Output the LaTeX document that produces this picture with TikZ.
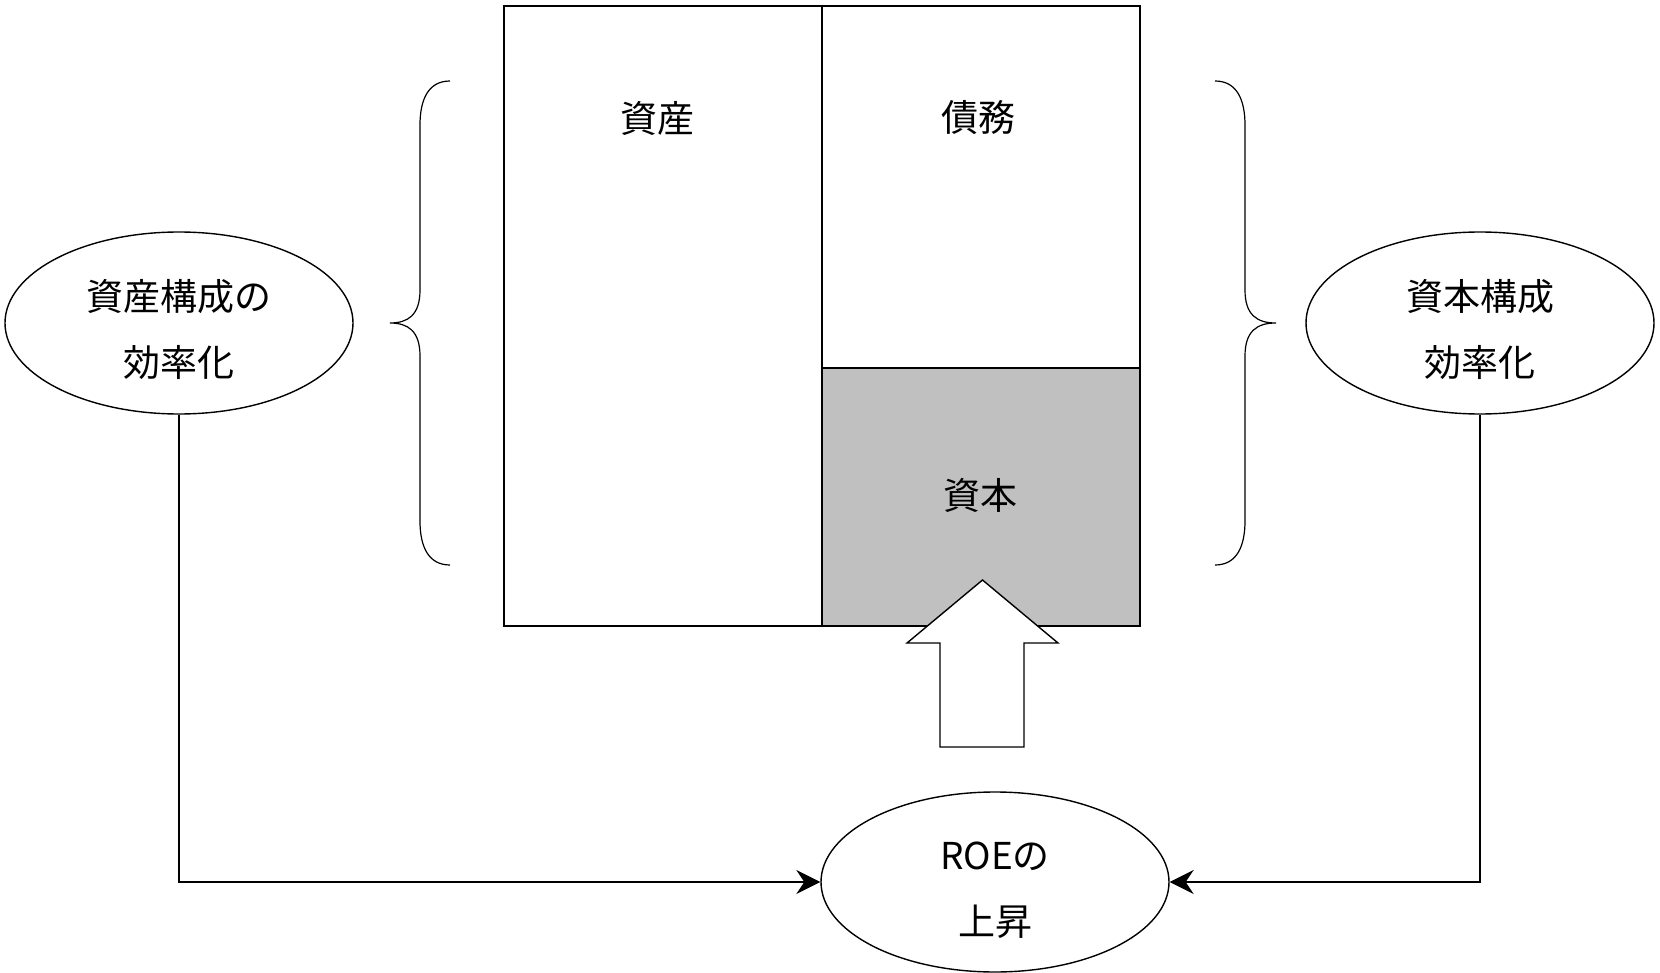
\documentclass[tikz,border=0pt]{standalone}
\usepackage{fontspec}
\setmainfont{Noto Sans CJK JP}
\usetikzlibrary{shapes.geometric,arrows.meta}
\newcommand{\downstrut}{\rule{0pt}{22pt}}
\begin{document}
\begin{tikzpicture}[x=0.5pt,y=-0.5pt,
  box/.style={draw, line width=0.9pt, inner sep=0, minimum width=159pt},
  oval/.style={draw, ellipse, line width=0.7pt, minimum width=174pt, minimum height=91pt, inner sep=0, align=center, font=\fontsize{18.5}{33}\selectfont},
  lbl/.style={font=\fontsize{18.5}{22}\selectfont, inner sep=0},
  conn/.style={line width=0.7pt, -{Stealth[length=12pt,width=12pt,inset=4pt]}},
  bracestyle/.style={line width=0.6pt}
]
\useasboundingbox (0,0) rectangle (1660,973);
% balance sheet
\node[box, minimum height=310pt] (asset) at (663,316) {};
\node[box, minimum height=181pt] (debt) at (981,187) {};
\node[box, minimum height=129pt, fill={rgb,255:red,192;green,192;blue,192}] (equity) at (981,497) {};
\node[lbl] (assetlbl) at (657,118) {資産};
\node[lbl] (debtlbl) at (978,118) {債務};
\node[lbl] (equitylbl) at (980,495) {資本};
% big up arrow
\draw[line width=0.7pt, fill=white] (982.5,580) -- (1058,643) -- (1024,643) -- (1024,747) -- (940,747) -- (940,643) -- (907,643) -- cycle;
% braces
\draw[bracestyle] (450,81) .. controls (428,81) and (420,100) .. (420,125) -- (420,290) .. controls (420,315) and (408,323) .. (390,323) .. controls (408,323) and (420,331) .. (420,356) -- (420,521) .. controls (420,546) and (428,565) .. (450,565);
\draw[bracestyle] (1215,81) .. controls (1237,81) and (1245,100) .. (1245,125) -- (1245,290) .. controls (1245,315) and (1257,323) .. (1276,323) .. controls (1257,323) and (1245,331) .. (1245,356) -- (1245,521) .. controls (1245,546) and (1237,565) .. (1215,565);
% ellipses
\node[oval] (left) at (179,323) {\downstrut 資産構成の\\効率化};
\node[oval] (right) at (1480,323) {\downstrut 資本構成\\効率化};
\node[oval, minimum height=90pt] (roe) at (995,882) {\downstrut ROEの\\上昇};
% connectors
\draw[conn] (left.south) |- (roe.west);
\draw[conn] (right.south) |- (roe.east);
\end{tikzpicture}
\end{document}
